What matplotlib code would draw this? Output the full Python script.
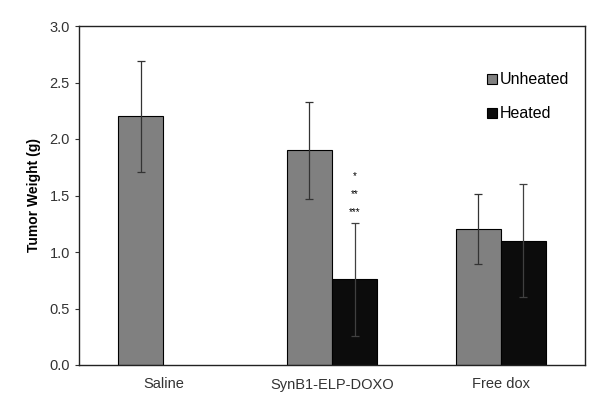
import numpy as np
import matplotlib.pyplot as plt

plt.rcParams['font.family'] = ['Liberation Sans', 'DejaVu Sans']

groups = ['Saline', 'SynB1-ELP-DOXO', 'Free dox']
unheated = [2.2, 1.9, 1.2]
unheated_err = [0.49, 0.43, 0.31]
heated = [np.nan, 0.76, 1.1]
heated_err = [np.nan, 0.5, 0.5]
stars = ['*', '**', '***']

fig = plt.figure(figsize=(6, 4.09), dpi=100)
ax = fig.add_axes([79/600, 1 - 365/409, 506/600, 339/409])

x = np.arange(len(groups))
w = 0.267
ax.bar(x - w/2, unheated, w, color='#808080', edgecolor='black', linewidth=0.8,
       label='Unheated')
ax.bar(x + w/2, heated, w, color='#0c0c0c', edgecolor='black', linewidth=0.8,
       label='Heated')
ax.errorbar(x - w/2, unheated, yerr=unheated_err, fmt='none', ecolor='#333333',
            elinewidth=0.9, capsize=3, capthick=0.9)
ax.errorbar(x + w/2, heated, yerr=heated_err, fmt='none', ecolor='#404040',
            elinewidth=0.9, capsize=3, capthick=0.9)

# significance marks above the heated SynB1 bar
for i, s in enumerate(stars):
    ax.text(1 + w/2, 1.67 - i*0.16, s, ha='center', va='center', fontsize=7)

ax.set_xlim(-0.5, 2.5)
ax.set_ylim(0, 3)
ax.set_yticks(np.arange(0, 3.01, 0.5))
ax.set_yticklabels(['%.1f' % v for v in np.arange(0, 3.01, 0.5)])
ax.set_xticks(x)
ax.set_xticklabels(groups)
ax.tick_params(axis='x', length=0, pad=9, labelsize=10.5, colors='#333333')
ax.tick_params(axis='y', length=3, direction='out', labelsize=10.5, colors='#333333')
ax.set_ylabel('Tumor Weight (g)', fontsize=10, fontweight='bold', labelpad=6)
for sp in ax.spines.values():
    sp.set_linewidth(1.0)
    sp.set_color('#222222')

ax.legend(loc='upper right', bbox_to_anchor=(0.997, 0.906), frameon=False,
          fontsize=11.5, handlelength=0.6, handleheight=0.6, handletextpad=0.2,
          labelspacing=1.2)

fig.savefig('out.png', dpi=100)
